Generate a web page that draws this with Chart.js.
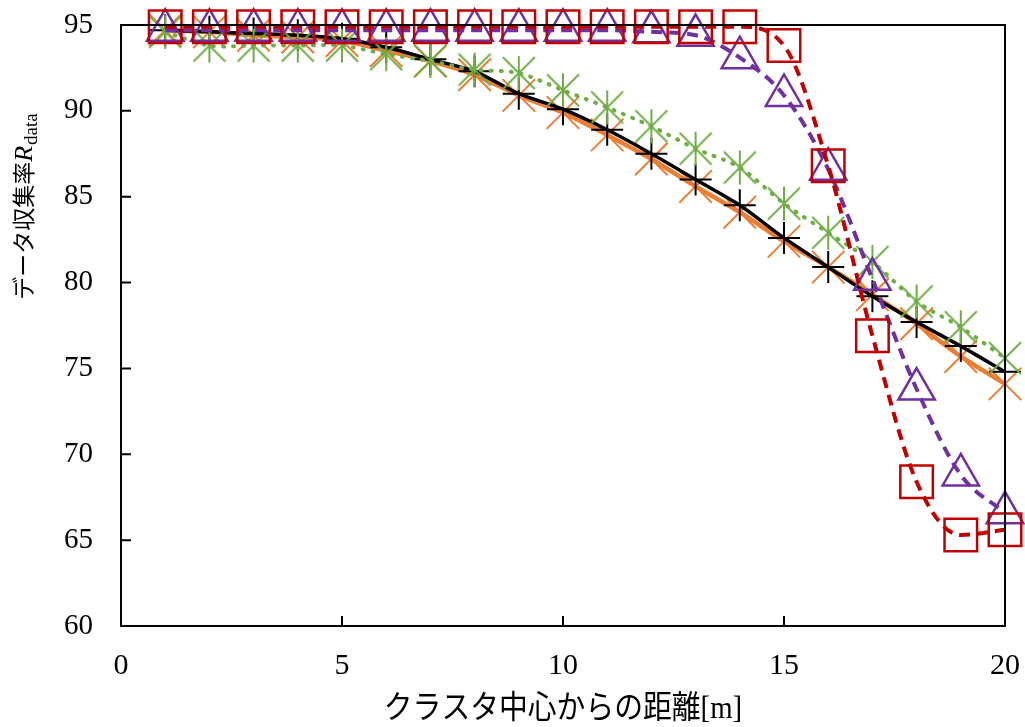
<!DOCTYPE html>
<html>
<head>
<meta charset="utf-8">
<script src="https://cdn.jsdelivr.net/npm/chart.js@4.4.1/dist/chart.umd.min.js"></script>
<style>
    html, body { margin: 0; padding: 0; background: #fff; }
    #wrap { width: 1025px; height: 727px; }
</style>
</head>
<body>
<div id="wrap"><canvas id="chart"></canvas></div>
<script>
// ─── data ───
const distances = [1, 2, 3, 4, 5, 6, 7, 8, 9, 10, 11, 12, 13, 14, 15, 16, 17, 18, 19, 20];
const blackPlus   = [94.7, 94.6, 94.5, 94.4, 94.2, 93.7, 93.0, 92.3, 91.0, 90.1, 88.9, 87.5, 86.0, 84.5, 82.6, 80.9, 79.2, 77.7, 76.3, 74.8];
const orangeCross = [94.7, 94.6, 94.4, 94.3, 94.1, 93.5, 92.9, 92.1, 90.9, 89.9, 88.6, 87.2, 85.6, 84.1, 82.4, 80.9, 79.3, 77.6, 75.7, 74.1];
const greenStar   = [94.6, 93.8, 93.8, 93.8, 93.8, 93.3, 92.9, 92.4, 92.2, 91.2, 90.2, 89.1, 87.8, 86.7, 84.6, 82.9, 81.2, 78.9, 77.4, 75.6];
const purpleTri   = [94.7, 94.7, 94.7, 94.7, 94.7, 94.7, 94.7, 94.7, 94.7, 94.7, 94.7, 94.6, 94.4, 93.1, 90.9, 86.6, 80.2, 73.8, 68.8, 66.6];
const redSquare   = [94.9, 94.9, 94.9, 94.9, 94.9, 94.9, 94.9, 94.9, 94.9, 94.9, 94.9, 94.9, 94.9, 94.9, 93.8, 86.8, 76.9, 68.4, 65.3, 65.6];
const xTicks = [0, 5, 10, 15, 20];
const yTicks = [60, 65, 70, 75, 80, 85, 90, 95];

const toPoints = vals => distances.map((d, i) => ({ x: d, y: vals[i] }));

// asterisk marker (+ and x of about the same size)
function makeStar(color) {
    const c = document.createElement('canvas');
    c.width = 40; c.height = 40;
    const g = c.getContext('2d');
    g.strokeStyle = color;
    g.lineWidth = 2;
    g.beginPath();
    g.moveTo(20, 3); g.lineTo(20, 37);
    g.moveTo(4, 4); g.lineTo(36, 36);
    g.moveTo(36, 4); g.lineTo(4, 36);
    g.stroke();
    return c;
}

const SERIF = '"Liberation Serif", "Times New Roman", serif';
const JP = '"Liberation Serif", "Noto Sans CJK JP", serif';

// ─── frame, inward ticks, axis titles ───
const framePlugin = {
    id: 'frame',
    afterDraw(chart) {
        const ctx = chart.ctx;
        const a = chart.chartArea;
        const xs = chart.scales.x, ys = chart.scales.y;
        ctx.save();
        ctx.strokeStyle = '#000';
        ctx.lineWidth = 2;
        ctx.strokeRect(a.left, a.top, a.right - a.left, a.bottom - a.top);
        ctx.beginPath();
        yTicks.slice(1, -1).forEach(v => {
            const py = ys.getPixelForValue(v);
            ctx.moveTo(a.left, py); ctx.lineTo(a.left + 10, py);
        });
        xTicks.slice(1, -1).forEach(v => {
            const px = xs.getPixelForValue(v);
            ctx.moveTo(px, a.bottom); ctx.lineTo(px, a.bottom - 10);
        });
        ctx.stroke();

        // x title
        ctx.fillStyle = '#000';
        ctx.textAlign = 'center';
        ctx.textBaseline = 'middle';
        ctx.save();
        ctx.translate((a.left + a.right) / 2, 710);
        ctx.scale(0.9, 1);
        ctx.font = '32px ' + JP;
        ctx.fillText('クラスタ中心からの距離[m]', 0, 0);
        ctx.restore();

        // y title
        ctx.save();
        ctx.translate(24, 207);
        ctx.rotate(-Math.PI / 2);
        ctx.textAlign = 'left';
        ctx.textBaseline = 'alphabetic';
        const main = 'データ収集率';
        ctx.font = '23px ' + JP;
        const w1 = ctx.measureText(main).width;
        ctx.font = 'italic 26px ' + SERIF;
        const w2 = ctx.measureText('R').width;
        ctx.font = '19px ' + SERIF;
        const w3 = ctx.measureText('data').width;
        let x0 = -(w1 + w2 + w3) / 2;
        const base = 8;
        ctx.font = '23px ' + JP;
        ctx.fillText(main, x0, base);
        ctx.font = 'italic 26px ' + SERIF;
        ctx.fillText('R', x0 + w1, base);
        ctx.font = '19px ' + SERIF;
        ctx.fillText('data', x0 + w1 + w2 + 1, base + 5);
        ctx.restore();
        ctx.restore();
    }
};

new Chart(document.getElementById('chart'), {
    type: 'line',
    data: {
        datasets: [
            {
                label: 'red',
                data: toPoints(redSquare),
                borderColor: '#C00000',
                borderWidth: 4,
                borderDash: [11, 7],
                cubicInterpolationMode: 'monotone',
                pointStyle: 'rect',
                pointRadius: 23,
                pointBorderWidth: 2.5,
                pointBorderColor: '#C00000',
                pointBackgroundColor: 'rgba(0,0,0,0)',
                clip: false,
            },
            {
                label: 'purple',
                data: toPoints(purpleTri),
                borderColor: '#7030A0',
                borderWidth: 4,
                borderDash: [11, 7],
                cubicInterpolationMode: 'monotone',
                pointStyle: 'triangle',
                pointRadius: 21,
                pointBorderWidth: 2.5,
                pointBorderColor: '#7030A0',
                pointBackgroundColor: 'rgba(0,0,0,0)',
                clip: false,
            },
            {
                label: 'green',
                data: toPoints(greenStar),
                borderColor: '#70AD47',
                borderWidth: 4,
                borderDash: [1, 9],
                borderCapStyle: 'round',
                tension: 0.3,
                pointStyle: makeStar('#70AD47'),
                clip: false,
            },
            {
                label: 'black',
                data: toPoints(blackPlus),
                borderColor: '#000000',
                borderWidth: 3.5,
                tension: 0.3,
                pointStyle: 'cross',
                pointRadius: 16,
                pointBorderWidth: 2,
                pointBorderColor: '#000000',
                clip: false,
            },
            {
                label: 'orange',
                data: toPoints(orangeCross),
                borderColor: '#ED7D31',
                borderWidth: 4.5,
                tension: 0.3,
                pointStyle: 'crossRot',
                pointRadius: 23,
                pointBorderWidth: 2,
                pointBorderColor: '#ED7D31',
                clip: false,
            },
        ]
    },
    options: {
        responsive: true,
        maintainAspectRatio: false,
        animation: false,
        layout: { autoPadding: false, padding: { top: 25, right: 20, left: 0, bottom: 0 } },
        plugins: {
            legend: { display: false },
            tooltip: { enabled: false },
        },
        scales: {
            x: {
                type: 'linear',
                min: 0,
                max: 20,
                afterFit(s) { s.height = 101; s.paddingLeft = 0; s.paddingRight = 0; },
                afterBuildTicks(s) { s.ticks = xTicks.map(v => ({ value: v })); },
                grid: { drawOnChartArea: false, drawTicks: false },
                border: { display: false },
                ticks: {
                    color: '#000',
                    padding: 22,
                    maxRotation: 0,
                    font: { family: SERIF, size: 30 },
                },
            },
            y: {
                min: 60,
                max: 95,
                afterFit(s) { s.width = 121; s.paddingTop = 0; s.paddingBottom = 0; },
                afterBuildTicks(s) { s.ticks = yTicks.map(v => ({ value: v })); },
                grid: { drawOnChartArea: false, drawTicks: false },
                border: { display: false },
                ticks: {
                    color: '#000',
                    padding: 28,
                    font: { family: SERIF, size: 29 },
                },
            },
        },
    },
    plugins: [framePlugin],
});
</script>
</body>
</html>
